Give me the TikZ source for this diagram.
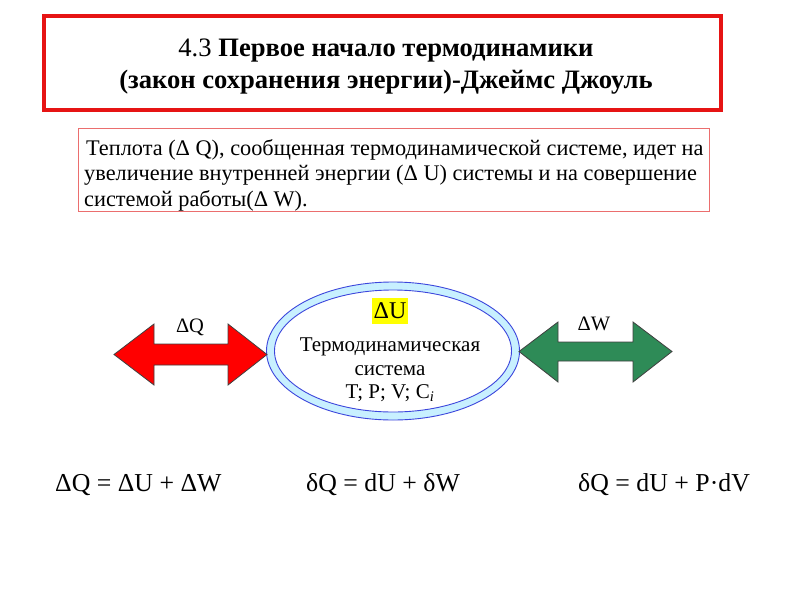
\documentclass[tikz,border=0pt]{standalone}
\usepackage{fontspec}
\setmainfont{Liberation Serif}
\usetikzlibrary{shapes.geometric}
\definecolor{titlered}{RGB}{230,20,20}
\definecolor{boxred}{RGB}{235,110,110}
\definecolor{ringblue}{RGB}{60,70,220}
\definecolor{ringfill}{RGB}{200,240,255}
\definecolor{arrgreen}{RGB}{46,139,87}
\definecolor{hlyellow}{RGB}{255,255,0}
\tikzset{
  titletext/.style={font=\fontsize{26.6}{32}\selectfont, align=center},
  bodytext/.style={font=\fontsize{22.3}{25.5}\selectfont, align=left, anchor=north west, inner sep=0pt},
  label/.style={font=\fontsize{20.5}{22}\selectfont, inner sep=0pt},
  eqtext/.style={font=\fontsize{25.8}{28}\selectfont, inner sep=0pt},
  bigarrow/.style={draw=black!75, line width=0.8pt, line join=miter},
}
\begin{document}
\begin{tikzpicture}[x=1pt,y=-1pt]
\useasboundingbox[fill=white] (0,0) rectangle (800,600);
% title
\draw[titlered, line width=3.5pt] (44,16) rectangle (721,110);
\node[titletext] (title) at (386,66.5) {4.3 \textbf{Первое начало термодинамики}\\\textbf{(закон сохранения энергии)-Джеймс Джоуль}};
% text box
\draw[boxred, line width=0.8pt] (78,128) rectangle (709,211);
\node[bodytext] (body) at (84,139) {\hspace{2pt}Теплота (Δ Q), сообщенная термодинамической системе, идет на\\увеличение внутренней энергии (Δ U) системы и на совершение\\системой работы(Δ W).};
% ellipse
\node[ellipse, draw=ringblue, fill=ringfill, line width=0.9pt, minimum width=253pt, minimum height=138pt, inner sep=0pt] (sysout) at (393,351) {};
\node[ellipse, draw=ringblue, fill=white, line width=0.9pt, minimum width=237pt, minimum height=122pt, inner sep=0pt] (sysin) at (393,351) {};
\node[fill=hlyellow, font=\fontsize{24}{26}\selectfont, inner xsep=2pt, inner ysep=0pt, minimum height=26pt] (du) at (390,311) {ΔU};
\node[font=\fontsize{21}{23.5}\selectfont, align=center] (systext) at (390,370) {Термодинамическая\\система\\T; P; V; C\textsubscript{\itshape i}};
% red arrow
\draw[bigarrow, fill=red] (114,354.5) -- (154,324) -- (154,344) -- (228,344) -- (228,324) -- (267,354.5) -- (228,385) -- (228,365) -- (154,365) -- (154,385) -- cycle;
\node[label] (dq) at (190,327) {ΔQ};
% green arrow
\draw[bigarrow, fill=arrgreen] (519,351.5) -- (558,322) -- (558,342) -- (633,342) -- (633,322) -- (672,351.5) -- (633,382) -- (633,361) -- (558,361) -- (558,382) -- cycle;
\node[label] (dw) at (594,324) {ΔW};
% equations
\node[eqtext, anchor=west] (eq1) at (55,485) {ΔQ = ΔU + ΔW};
\node[eqtext, anchor=west] (eq2) at (306,485) {δQ = dU + δW};
\node[eqtext, anchor=west] (eq3) at (578,485) {δQ = dU + P·dV};
\end{tikzpicture}
\end{document}
